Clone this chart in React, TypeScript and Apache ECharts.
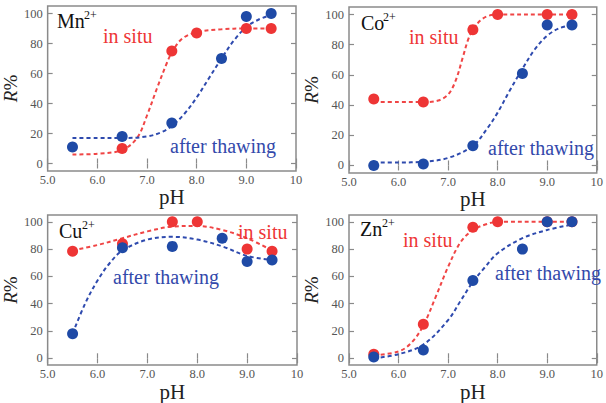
import React, { useEffect, useRef } from "react";
import * as echarts from "echarts";

// ---- Data (pH, R%) ----
const mnInSitu = [[6.5, 10], [7.5, 75], [8.0, 87], [9.0, 90], [9.5, 90]];
const mnThawing = [[5.5, 11], [6.5, 18], [7.5, 27], [8.5, 70], [9.0, 98], [9.5, 100]];
const mnInSituFit = [[5.5, 6], [6.0, 6.5], [6.5, 9], [6.8, 17], [7.0, 32], [7.2, 50], [7.4, 67], [7.5, 74], [7.7, 83], [8.0, 87.5], [8.5, 89.5], [9.0, 90], [9.5, 90]];
const mnThawingFit = [[5.5, 17], [6.0, 17], [6.5, 17], [7.0, 18], [7.3, 21], [7.5, 25], [7.75, 33], [8.0, 44], [8.25, 57], [8.5, 70], [8.75, 82], [9.0, 91], [9.25, 96], [9.5, 99]];

const coInSitu = [[5.5, 44], [6.5, 42], [7.5, 90], [8.0, 100], [9.0, 100], [9.5, 100]];
const coThawing = [[5.5, 0], [6.5, 1], [7.5, 13], [8.5, 61], [9.0, 93], [9.5, 93]];
const coInSituFit = [[5.5, 42], [6.0, 42], [6.5, 42], [6.8, 43], [7.0, 47], [7.15, 56], [7.3, 72], [7.4, 83], [7.5, 90], [7.65, 96], [7.8, 99], [8.0, 100], [9.0, 100], [9.5, 100]];
const coThawingFit = [[5.5, 2], [6.0, 2], [6.5, 2.5], [7.0, 5], [7.5, 13], [7.8, 25], [8.0, 35], [8.25, 50], [8.5, 64], [8.75, 77], [9.0, 86], [9.25, 91], [9.5, 93]];

const cuInSitu = [[5.5, 78.5], [6.5, 84], [7.5, 100], [8.0, 100], [9.0, 80], [9.5, 78.5]];
const cuThawing = [[5.5, 18], [6.5, 81], [7.5, 82], [8.5, 88], [9.0, 71], [9.5, 72]];
const cuInSituFit = [[5.5, 79], [6.0, 83], [6.5, 88], [7.0, 93], [7.5, 96.5], [8.0, 97], [8.5, 94], [9.0, 88], [9.5, 79]];
const cuThawingFit = [[5.5, 18], [5.75, 40], [6.0, 57], [6.25, 70], [6.5, 79], [7.0, 87], [7.5, 89], [8.0, 87], [8.5, 82], [9.0, 75], [9.5, 72]];

const znInSitu = [[5.5, 3], [6.5, 25], [7.5, 96], [8.0, 100], [9.0, 100], [9.5, 100]];
const znThawing = [[5.5, 1], [6.5, 6], [7.5, 57], [8.5, 80], [9.0, 100], [9.5, 100]];
const znInSituFit = [[5.5, 2], [6.0, 5], [6.25, 11], [6.5, 24], [6.75, 45], [7.0, 67], [7.25, 85], [7.5, 94], [7.75, 98], [8.0, 100], [9.0, 100], [9.5, 100]];
const znThawingFit = [[5.5, 0], [6.0, 3], [6.5, 10], [7.0, 28], [7.25, 42], [7.5, 56], [7.75, 67], [8.0, 77], [8.5, 88], [9.0, 94], [9.5, 98]];

const yTicks = [0, 20, 40, 60, 80, 100];
const ions = [["Mn", "2+"], ["Co", "2+"], ["Cu", "2+"], ["Zn", "2+"]];
const inSituLabel = "in situ";
const thawingLabel = "after thawing";

// ---- Layout / style ----
const SERIF = "Liberation Serif";
const RED = "#ee3535";
const BLUE = "#1f4aa6";
const RED_LINE = "#f04545";
const BLUE_LINE = "#2e4aae";
const AXIS = "#8a8a8a";

const grids = [
  { left: 46, top: 6, width: 250, height: 165 },
  { left: 349, top: 7, width: 250, height: 166 },
  { left: 46, top: 215, width: 251, height: 162 },
  { left: 349, top: 215, width: 250, height: 162 },
];
const ionPos = [
  { x: 57, y: 11, sx: 84, sy: 9 },
  { x: 361, y: 13, sx: 383, sy: 11 },
  { x: 59, y: 221, sx: 82, sy: 219 },
  { x: 360, y: 219, sx: 382, sy: 217 },
];
const inSituPos = [
  { x: 103, y: 36 },
  { x: 409, y: 37 },
  { x: 238, y: 232 },
  { x: 403, y: 240 },
];
const thawingPos = [
  { x: 170, y: 146 },
  { x: 488, y: 148 },
  { x: 113, y: 277 },
  { x: 495, y: 273 },
];

const panels = [
  { inSitu: mnInSitu, thawing: mnThawing, inSituFit: mnInSituFit, thawingFit: mnThawingFit },
  { inSitu: coInSitu, thawing: coThawing, inSituFit: coInSituFit, thawingFit: coThawingFit },
  { inSitu: cuInSitu, thawing: cuThawing, inSituFit: cuInSituFit, thawingFit: cuThawingFit },
  { inSitu: znInSitu, thawing: znThawing, inSituFit: znInSituFit, thawingFit: znThawingFit },
];

function buildOption() {
  const xAxis: any[] = [];
  const yAxis: any[] = [];
  const series: any[] = [];
  const graphic: any[] = [];

  grids.forEach((_, i) => {
    xAxis.push({
      type: "value", gridIndex: i, min: 5, max: 10, interval: 1, position: "bottom",
      name: "pH", nameLocation: "middle", nameGap: 5,
      nameTextStyle: { fontFamily: SERIF, fontSize: 21, color: "#222", verticalAlign: "top" },
      axisLine: { show: false },
      axisTick: { show: true, inside: true, length: 5, lineStyle: { color: AXIS, width: 1.2 } },
      axisLabel: {
        show: true, margin: 2, fontFamily: SERIF, fontSize: 12.5, color: "#555",
        formatter: (v: number) => (v === 10 ? "10" : v.toFixed(1)),
      },
      splitLine: { show: false },
    });
  });
  grids.forEach((_, i) => {
    xAxis.push({
      type: "value", gridIndex: i, min: 5, max: 10, interval: 1, position: "top",
      axisLine: { show: false },
      axisTick: { show: true, inside: true, length: 5, lineStyle: { color: AXIS, width: 1.2 } },
      axisLabel: { show: false },
      splitLine: { show: false },
    });
  });
  grids.forEach((_, i) => {
    yAxis.push({
      type: "value", gridIndex: i, min: -5, max: 105, position: "left",
      name: "{i|R}{n|%}", nameLocation: "middle", nameGap: 24, nameRotate: 90,
      nameTextStyle: {
        color: "#222", fontFamily: SERIF, fontSize: 19,
        rich: {
          i: { fontFamily: SERIF, fontSize: 19, fontStyle: "italic", color: "#222" },
          n: { fontFamily: SERIF, fontSize: 19, color: "#222" },
        },
      },
      axisLine: { show: false },
      axisTick: { show: true, inside: true, length: 5, customValues: yTicks, lineStyle: { color: AXIS, width: 1.2 } },
      axisLabel: { show: true, margin: 5, customValues: yTicks, fontFamily: SERIF, fontSize: 12.5, color: "#555" },
      splitLine: { show: false },
    });
  });
  grids.forEach((_, i) => {
    yAxis.push({
      type: "value", gridIndex: i, min: -5, max: 105, position: "right",
      axisLine: { show: false },
      axisTick: { show: true, inside: true, length: 5, customValues: yTicks, lineStyle: { color: AXIS, width: 1.2 } },
      axisLabel: { show: false },
      splitLine: { show: false },
    });
  });

  panels.forEach((p, i) => {
    const lineBase = {
      type: "line", xAxisIndex: i, yAxisIndex: i, smooth: 0.35, showSymbol: false,
      symbol: "none", silent: true, z: 2,
    };
    series.push({ ...lineBase, data: p.inSituFit, lineStyle: { color: RED_LINE, width: 2, type: [4, 3] } });
    series.push({ ...lineBase, data: p.thawingFit, lineStyle: { color: BLUE_LINE, width: 2, type: [4, 3] } });
    series.push({
      type: "scatter", xAxisIndex: i, yAxisIndex: i, data: p.inSitu, symbolSize: 11, z: 3,
      itemStyle: { color: RED, opacity: 1 },
    });
    series.push({
      type: "scatter", xAxisIndex: i, yAxisIndex: i, data: p.thawing, symbolSize: 11, z: 4,
      itemStyle: { color: BLUE, opacity: 1 },
    });

    graphic.push({
      type: "text", x: ionPos[i].x, y: ionPos[i].y, z: 10,
      style: { text: ions[i][0], fill: "#111", fontFamily: SERIF, fontSize: 20, verticalAlign: "top" },
    });
    graphic.push({
      type: "text", x: ionPos[i].sx, y: ionPos[i].sy, z: 10,
      style: { text: ions[i][1], fill: "#111", fontFamily: SERIF, fontSize: 12, verticalAlign: "top" },
    });
    graphic.push({
      type: "text", x: inSituPos[i].x, y: inSituPos[i].y, z: 10,
      style: { text: inSituLabel, fill: RED, fontFamily: SERIF, fontSize: 20, verticalAlign: "middle" },
    });
    graphic.push({
      type: "text", x: thawingPos[i].x, y: thawingPos[i].y, z: 10,
      style: { text: thawingLabel, fill: "#3349ab", fontFamily: SERIF, fontSize: 20, verticalAlign: "middle" },
    });
  });

  return {
    animation: false,
    backgroundColor: "#ffffff",
    grid: grids.map((g) => ({ ...g, show: true, borderColor: AXIS, borderWidth: 1.5, backgroundColor: "transparent" })),
    xAxis,
    yAxis,
    series,
    graphic,
  };
}

export default function App() {
  const ref = useRef<HTMLDivElement>(null);
  useEffect(() => {
    if (!ref.current) return;
    const chart = echarts.init(ref.current, undefined, { renderer: "svg" });
    chart.setOption(buildOption() as any);
    return () => chart.dispose();
  }, []);
  return (
    <div
      ref={ref}
      style={{ position: "fixed", left: 0, top: 0, width: 606, height: 403, background: "#fff" }}
    />
  );
}
